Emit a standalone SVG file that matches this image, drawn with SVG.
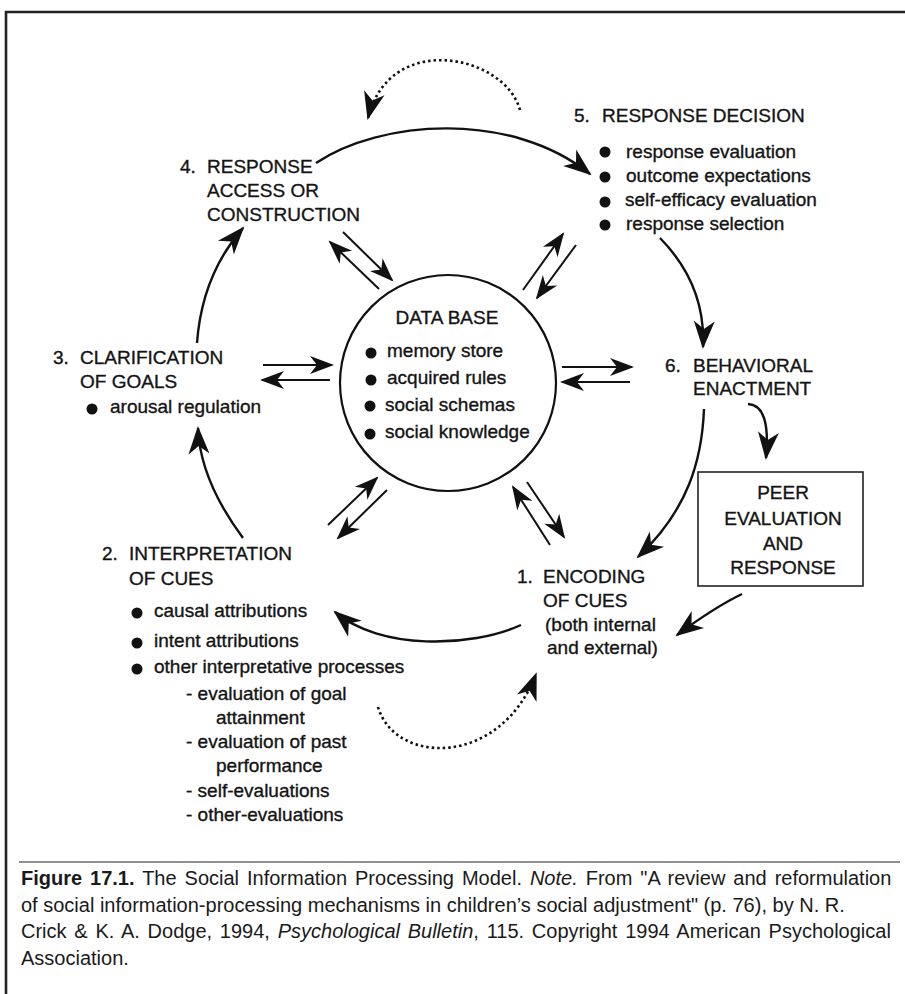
<svg xmlns="http://www.w3.org/2000/svg" width="905" height="994" viewBox="0 0 905 994">
<style>
.t{font-family:"Liberation Sans",Arial,Helvetica,sans-serif;font-size:19px;fill:#141414;stroke:#141414;stroke-width:0.35}
.c{font-family:"Liberation Sans",Arial,sans-serif;font-size:20px;fill:#1a1a1a}
.ln{fill:none;stroke:#111;stroke-width:2.4}
.pr{fill:none;stroke:#111;stroke-width:2}
.dt{fill:none;stroke:#111;stroke-width:2.6;stroke-dasharray:2.5 3}
.b{fill:#111}
</style>
<defs>
<marker id="ah" viewBox="-29 -11 31 22" markerWidth="31" markerHeight="22" refX="-1" refY="0" orient="auto" markerUnits="userSpaceOnUse">
<path d="M1,0 L-27,-10.5 L-19,0 L-27,10.5 Z" fill="#111"/>
</marker>
<marker id="as" viewBox="-26 -10 28 20" markerWidth="28" markerHeight="20" refX="-1" refY="0" orient="auto" markerUnits="userSpaceOnUse">
<path d="M1,0 L-23,-9 L-16,0 L-23,9 Z" fill="#111"/>
</marker>
</defs>
<rect width="905" height="994" fill="#fff"/>
<g id="frame">
<path d="M6,994 L6,12 L905,12" fill="none" stroke="#222" stroke-width="2.6"/>
<line x1="19" y1="862" x2="900" y2="862" stroke="#222" stroke-width="1.2"/>
</g>
<g id="connectors">
<path class="ln" d="M316,163 C380,120 510,110 590,174" marker-end="url(#ah)"/>
<path class="ln" d="M660,238 Q706,285 703,347" marker-end="url(#ah)"/>
<path class="ln" d="M748,404 Q771,405 766,458" marker-end="url(#ah)"/>
<path class="ln" d="M704,409 C702,460 688,510 638,557" marker-end="url(#ah)"/>
<path class="ln" d="M742,594 Q715,607 677,635" marker-end="url(#ah)"/>
<path class="ln" d="M521,625 C470,648 380,650 335,612" marker-end="url(#ah)"/>
<path class="ln" d="M243,538 Q200,480 198,428" marker-end="url(#ah)"/>
<path class="ln" d="M197,343 Q202,275 243,228" marker-end="url(#ah)"/>
<path class="dt" d="M520,110 C505,55 390,30 368,118" marker-end="url(#ah)"/>
<path class="dt" d="M378,707 C395,765 500,768 536,674" marker-end="url(#ah)"/>
<line class="pr" x1="343" y1="232" x2="392" y2="280" marker-end="url(#as)"/>
<line class="pr" x1="379" y1="289" x2="330" y2="242" marker-end="url(#as)"/>
<line class="pr" x1="523" y1="290" x2="563" y2="234" marker-end="url(#as)"/>
<line class="pr" x1="576" y1="245" x2="537" y2="298" marker-end="url(#as)"/>
<line class="pr" x1="263" y1="365" x2="332" y2="365" marker-end="url(#as)"/>
<line class="pr" x1="330" y1="380" x2="262" y2="380" marker-end="url(#as)"/>
<line class="pr" x1="562" y1="367" x2="632" y2="367" marker-end="url(#as)"/>
<line class="pr" x1="630" y1="382" x2="562" y2="382" marker-end="url(#as)"/>
<line class="pr" x1="328" y1="525" x2="377" y2="478" marker-end="url(#as)"/>
<line class="pr" x1="387" y1="490" x2="338" y2="538" marker-end="url(#as)"/>
<line class="pr" x1="550" y1="545" x2="513" y2="487" marker-end="url(#as)"/>
<line class="pr" x1="527" y1="482" x2="564" y2="537" marker-end="url(#as)"/>
</g>
<g id="database">
<circle cx="448" cy="383" r="108" fill="none" stroke="#111" stroke-width="2.2"/>
<text class="t" x="447" y="324" text-anchor="middle">DATA BASE</text>
<circle class="b" cx="371" cy="353" r="5.5"/>
<circle class="b" cx="371" cy="380" r="5.5"/>
<circle class="b" cx="370" cy="406" r="5.5"/>
<circle class="b" cx="370" cy="434" r="5.5"/>
<text class="t" x="387" y="357">memory store</text>
<text class="t" x="387" y="384">acquired rules</text>
<text class="t" x="385" y="411">social schemas</text>
<text class="t" x="385" y="438">social knowledge</text>
</g>
<g id="node-4">
<text class="t" x="180" y="173">4.</text>
<text class="t" x="207" y="173">RESPONSE</text>
<text class="t" x="207" y="197">ACCESS OR</text>
<text class="t" x="207" y="221">CONSTRUCTION</text>
</g>
<g id="node-5">
<text class="t" x="574" y="122">5.</text>
<text class="t" x="602" y="122">RESPONSE DECISION</text>
<circle class="b" cx="605" cy="152" r="5.5"/>
<circle class="b" cx="605" cy="177" r="5.5"/>
<circle class="b" cx="605" cy="202" r="5.5"/>
<circle class="b" cx="605" cy="225" r="5.5"/>
<text class="t" x="626" y="158">response evaluation</text>
<text class="t" x="626" y="182">outcome expectations</text>
<text class="t" x="625" y="206">self-efficacy evaluation</text>
<text class="t" x="626" y="230">response selection</text>
</g>
<g id="node-6">
<text class="t" x="665" y="372">6.</text>
<text class="t" x="693" y="372">BEHAVIORAL</text>
<text class="t" x="693" y="395">ENACTMENT</text>
</g>
<g id="peer">
<rect x="698" y="472" width="165" height="114" fill="none" stroke="#222" stroke-width="1.6"/>
<text class="t" x="783" y="499" text-anchor="middle">PEER</text>
<text class="t" x="783" y="525" text-anchor="middle">EVALUATION</text>
<text class="t" x="783" y="550" text-anchor="middle">AND</text>
<text class="t" x="783" y="574" text-anchor="middle">RESPONSE</text>
</g>
<g id="node-1">
<text class="t" x="517" y="583">1.</text>
<text class="t" x="543" y="583">ENCODING</text>
<text class="t" x="543" y="607">OF CUES</text>
<text class="t" x="545" y="631">(both internal</text>
<text class="t" x="547" y="654">and external)</text>
</g>
<g id="node-2">
<text class="t" x="102" y="560">2.</text>
<text class="t" x="129" y="560">INTERPRETATION</text>
<text class="t" x="129" y="585">OF CUES</text>
<circle class="b" cx="137" cy="613" r="5.5"/>
<circle class="b" cx="137" cy="643" r="5.5"/>
<circle class="b" cx="137" cy="669" r="5.5"/>
<text class="t" x="154" y="617">causal attributions</text>
<text class="t" x="154" y="647">intent attributions</text>
<text class="t" x="154" y="673">other interpretative processes</text>
<text class="t" x="186" y="700">- evaluation of goal</text>
<text class="t" x="216" y="724">attainment</text>
<text class="t" x="186" y="748">- evaluation of past</text>
<text class="t" x="216" y="772">performance</text>
<text class="t" x="186" y="797">- self-evaluations</text>
<text class="t" x="186" y="821">- other-evaluations</text>
</g>
<g id="node-3">
<text class="t" x="53" y="364">3.</text>
<text class="t" x="80" y="364">CLARIFICATION</text>
<text class="t" x="80" y="388">OF GOALS</text>
<circle class="b" cx="92" cy="409" r="5.5"/>
<text class="t" x="110" y="413">arousal regulation</text>
</g>
<g id="caption">
<text class="c" x="21" y="885" word-spacing="2.4"><tspan font-weight="bold">Figure 17.1.</tspan> The Social Information Processing Model. <tspan font-style="italic">Note.</tspan> From "A review and reformulation</text>
<text class="c" x="21" y="912">of social information-processing mechanisms in children’s social adjustment" (p. 76), by N. R.</text>
<text class="c" x="21" y="938" word-spacing="2.2">Crick &amp; K. A. Dodge, 1994, <tspan font-style="italic">Psychological Bulletin</tspan>, 115. Copyright 1994 American Psychological</text>
<text class="c" x="21" y="964.5">Association.</text>
</g>
</svg>
